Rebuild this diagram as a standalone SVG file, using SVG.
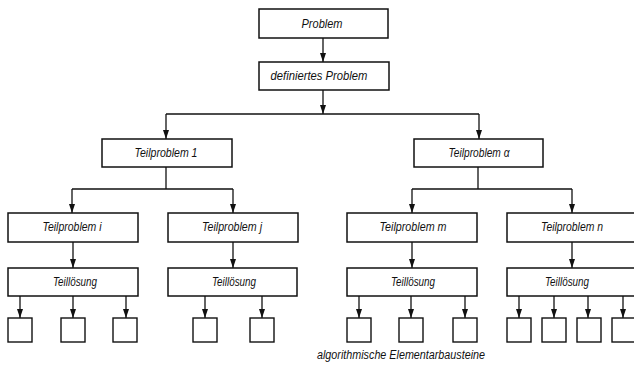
<svg xmlns="http://www.w3.org/2000/svg" width="634" height="365" viewBox="0 0 634 365">
<style>
.box{fill:#fff;stroke:#111;stroke-width:1.5}
.sm{fill:#fff;stroke:#111;stroke-width:1.4}
.lbl{font-family:"Liberation Sans",Arial,sans-serif;font-style:italic;font-size:12.5px;fill:#111;text-anchor:middle}
.con{fill:none;stroke:#111;stroke-width:1.3}
</style>
<defs>
<marker id="ah" markerUnits="userSpaceOnUse" markerWidth="9" markerHeight="6" refX="9" refY="3" orient="auto">
<path d="M0,0 L9,3 L0,6 z" fill="#111"/>
</marker>
</defs>
<rect width="634" height="365" fill="#fff"/>
<g id="connectors" class="con">
<path d="M323,38 V62" marker-end="url(#ah)"/>
<path d="M323,90 V114" marker-end="url(#ah)"/>
<path d="M166,114 H479"/>
<path d="M166,114 V139" marker-end="url(#ah)"/>
<path d="M479,114 V139" marker-end="url(#ah)"/>
<path d="M166,167 V189 M72,189 H233"/>
<path d="M72,189 V213" marker-end="url(#ah)"/>
<path d="M233,189 V213" marker-end="url(#ah)"/>
<path d="M478,167 V189 M412,189 H572"/>
<path d="M412,189 V213" marker-end="url(#ah)"/>
<path d="M572,189 V213" marker-end="url(#ah)"/>
<path d="M73,242 V268" marker-end="url(#ah)"/>
<path d="M233,242 V268" marker-end="url(#ah)"/>
<path d="M412,242 V268" marker-end="url(#ah)"/>
<path d="M572,242 V268" marker-end="url(#ah)"/>
<path d="M20,296 V318" marker-end="url(#ah)"/>
<path d="M73,296 V318" marker-end="url(#ah)"/>
<path d="M126,296 V318" marker-end="url(#ah)"/>
<path d="M205,296 V318" marker-end="url(#ah)"/>
<path d="M262,296 V318" marker-end="url(#ah)"/>
<path d="M359,296 V318" marker-end="url(#ah)"/>
<path d="M411,296 V318" marker-end="url(#ah)"/>
<path d="M465,296 V318" marker-end="url(#ah)"/>
<path d="M519,296 V318" marker-end="url(#ah)"/>
<path d="M554,296 V318" marker-end="url(#ah)"/>
<path d="M588,296 V318" marker-end="url(#ah)"/>
<path d="M623,296 V318" marker-end="url(#ah)"/>
</g>
<g id="problem"><rect class="box" x="259" y="9" width="129" height="29"/><text class="lbl" x="322" y="28" textLength="41" lengthAdjust="spacingAndGlyphs">Problem</text></g>
<g id="definiertes"><rect class="box" x="259" y="62" width="130" height="28"/><text class="lbl" x="319" y="80" textLength="97" lengthAdjust="spacingAndGlyphs">definiertes Problem</text></g>
<g id="tp1"><rect class="box" x="102" y="139" width="130" height="28"/><text class="lbl" x="166" y="157" textLength="63" lengthAdjust="spacingAndGlyphs">Teilproblem 1</text></g>
<g id="tpa"><rect class="box" x="414" y="139" width="129" height="28"/><text class="lbl" x="479" y="157" textLength="61" lengthAdjust="spacingAndGlyphs">Teilproblem α</text></g>
<g id="tpi"><rect class="box" x="8" y="213" width="130" height="29"/><text class="lbl" x="72" y="231" textLength="59" lengthAdjust="spacingAndGlyphs">Teilproblem i</text></g>
<g id="tpj"><rect class="box" x="168" y="213" width="130" height="29"/><text class="lbl" x="232" y="231" textLength="60" lengthAdjust="spacingAndGlyphs">Teilproblem j</text></g>
<g id="tpm"><rect class="box" x="347" y="213" width="130" height="29"/><text class="lbl" x="413" y="231" textLength="67" lengthAdjust="spacingAndGlyphs">Teilproblem m</text></g>
<g id="tpn"><rect class="box" x="507" y="213" width="131" height="29"/><text class="lbl" x="572" y="231" textLength="62" lengthAdjust="spacingAndGlyphs">Teilproblem n</text></g>
<g id="tli"><rect class="box" x="8" y="268" width="130" height="28"/><text class="lbl" x="75" y="286" textLength="44" lengthAdjust="spacingAndGlyphs">Teillösung</text></g>
<g id="tlj"><rect class="box" x="168" y="268" width="129" height="28"/><text class="lbl" x="234" y="286" textLength="44" lengthAdjust="spacingAndGlyphs">Teillösung</text></g>
<g id="tlm"><rect class="box" x="347" y="268" width="130" height="28"/><text class="lbl" x="413" y="286" textLength="44" lengthAdjust="spacingAndGlyphs">Teillösung</text></g>
<g id="tln"><rect class="box" x="507" y="268" width="131" height="28"/><text class="lbl" x="567" y="286" textLength="44" lengthAdjust="spacingAndGlyphs">Teillösung</text></g>
<g id="e1"><rect class="sm" x="8" y="318" width="24" height="24"/></g>
<g id="e2"><rect class="sm" x="61" y="318" width="24" height="24"/></g>
<g id="e3"><rect class="sm" x="113" y="318" width="24" height="24"/></g>
<g id="e4"><rect class="sm" x="193" y="318" width="24" height="24"/></g>
<g id="e5"><rect class="sm" x="250" y="318" width="24" height="24"/></g>
<g id="e6"><rect class="sm" x="347" y="318" width="24" height="24"/></g>
<g id="e7"><rect class="sm" x="399" y="318" width="24" height="24"/></g>
<g id="e8"><rect class="sm" x="453" y="318" width="24" height="24"/></g>
<g id="e9"><rect class="sm" x="507" y="318" width="24" height="24"/></g>
<g id="e10"><rect class="sm" x="542" y="318" width="24" height="24"/></g>
<g id="e11"><rect class="sm" x="577" y="318" width="24" height="24"/></g>
<g id="e12"><rect class="sm" x="612" y="318" width="24" height="24"/></g>
<text class="lbl" x="317" y="359" style="text-anchor:start" textLength="168" lengthAdjust="spacingAndGlyphs">algorithmische Elementarbausteine</text>
</svg>
